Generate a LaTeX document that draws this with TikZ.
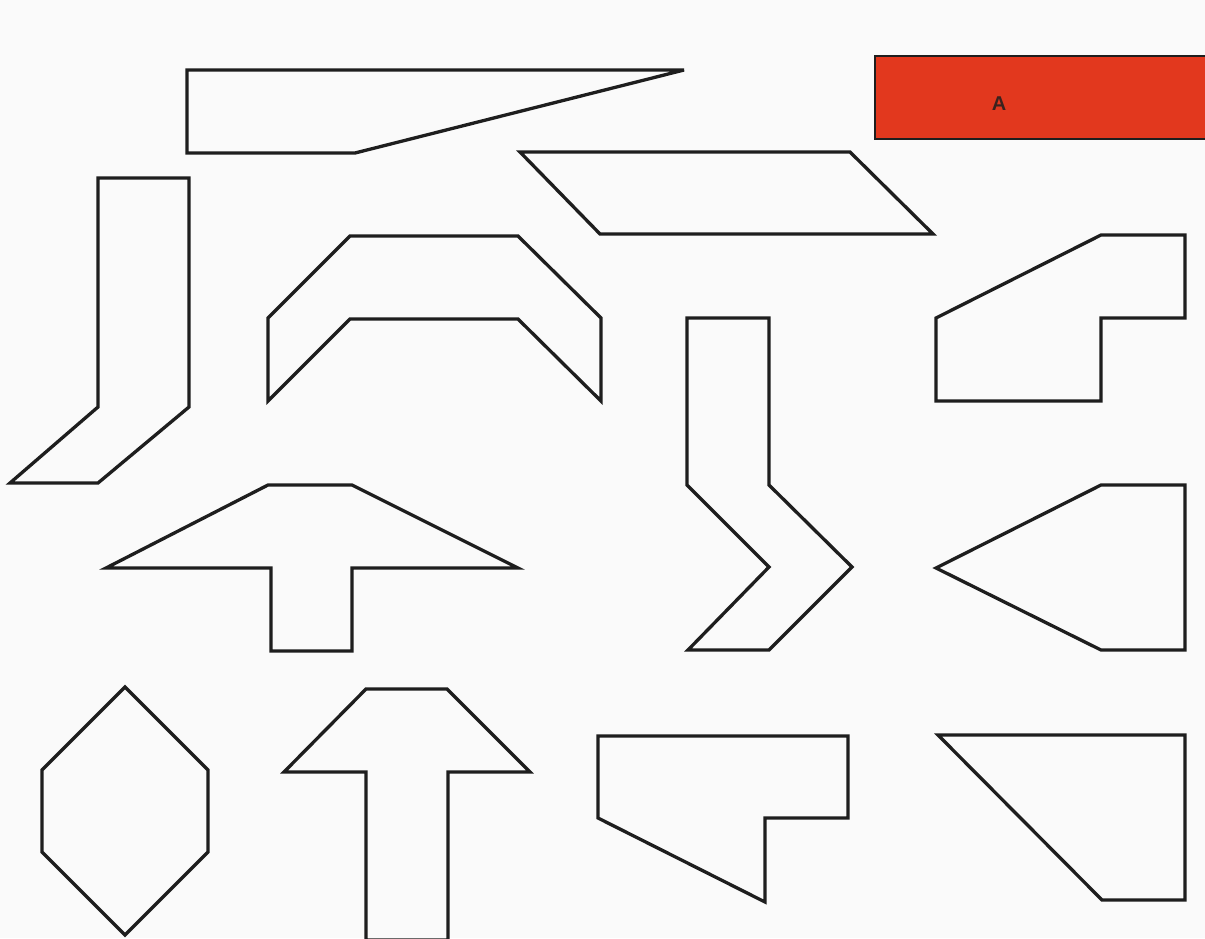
\documentclass[tikz,border=0pt]{standalone}
\usepackage{fontspec}
\setmainfont{Liberation Sans}
\definecolor{paper}{RGB}{250,250,250}
\definecolor{redfill}{RGB}{226,56,30}
\definecolor{ink}{RGB}{30,30,30}
\begin{document}
\begin{tikzpicture}[x=1pt,y=-1pt,
  piece/.style={draw=ink,line width=3.3pt,line join=miter,miter limit=5,fill=paper}]
\fill[paper] (0,0) rectangle (1205,938);
\useasboundingbox (0,0) rectangle (1205,938);
% top wedge
\draw[piece] (187,70) -- (684,70) -- (355,153) -- (187,153) -- cycle;
% red rectangle A
\draw[draw=ink,line width=2.6pt,fill=redfill] (875,56) rectangle (1206,139);
\node[font=\bfseries\fontsize{20}{22}\selectfont,text=ink!85!redfill] (labelA) at (999,104) {A};
% parallelogram
\draw[piece] (520,152) -- (850,152) -- (933,234) -- (600,234) -- cycle;
% L-shape left
\draw[piece] (98,178) -- (189,178) -- (189,407) -- (98,483) -- (10,483) -- (98,407) -- cycle;
% arch
\draw[piece] (350,236) -- (518,236) -- (601,318) -- (601,401) -- (518,319) -- (350,319) -- (268,401) -- (268,318) -- cycle;
% right upper
\draw[piece] (1101,235) -- (1185,235) -- (1185,318) -- (1101,318) -- (1101,401) -- (936,401) -- (936,318) -- cycle;
% zigzag
\draw[piece] (687,318) -- (769,318) -- (769,485) -- (852,567) -- (769,650) -- (688,650) -- (769,567) -- (687,485) -- cycle;
% mushroom
\draw[piece] (268,485) -- (352,485) -- (518,568) -- (352,568) -- (352,651) -- (271,651) -- (271,568) -- (106,568) -- cycle;
% right arrowhead shape
\draw[piece] (1101,485) -- (1185,485) -- (1185,650) -- (1101,650) -- (936,568) -- cycle;
% hexagon
\draw[piece] (125,687) -- (208,770) -- (208,852) -- (125,935) -- (42,852) -- (42,770) -- cycle;
% up arrow
\draw[piece] (366,689) -- (447,689) -- (530,772) -- (448,772) -- (448,940) -- (366,940) -- (366,772) -- (284,772) -- cycle;
% bottom middle
\draw[piece] (598,736) -- (848,736) -- (848,818) -- (765,818) -- (765,902) -- (598,818) -- cycle;
% bottom right
\draw[piece] (938,735) -- (1185,735) -- (1185,900) -- (1102,900) -- cycle;
\end{tikzpicture}
\end{document}
